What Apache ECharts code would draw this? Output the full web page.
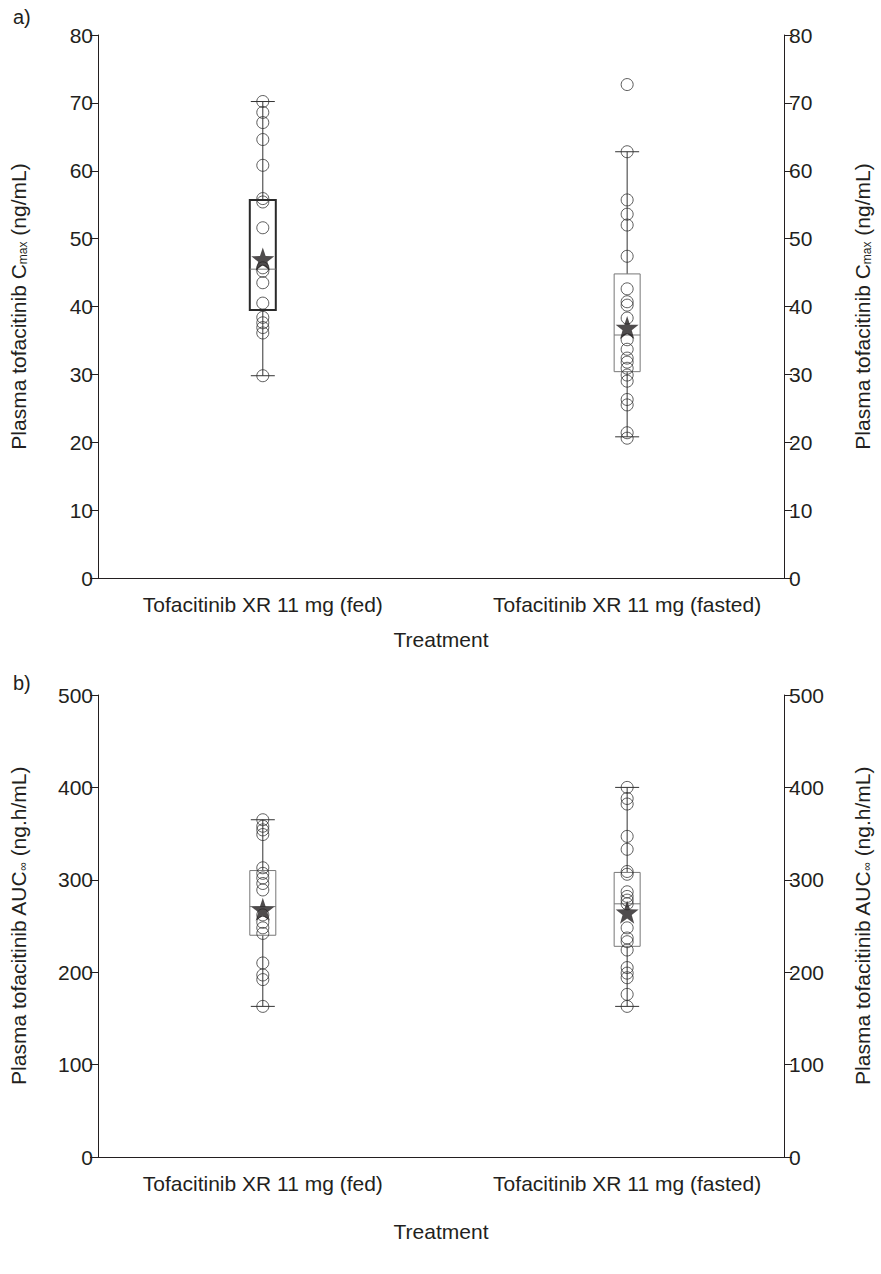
<!DOCTYPE html>
<html><head><meta charset="utf-8">
<script src="https://cdn.jsdelivr.net/npm/echarts@6/dist/echarts.min.js"></script>
<style>html,body{margin:0;padding:0;background:#fff}#c{width:881px;height:1274px}</style>
</head><body><div id="c"></div>
<script>
// ---- data ----
const categories = ['Tofacitinib XR 11 mg (fed)', 'Tofacitinib XR 11 mg (fasted)'];
const cmaxTicks = [0, 10, 20, 30, 40, 50, 60, 70, 80];
const aucTicks = [0, 100, 200, 300, 400, 500];

const cmaxFed = [70.2, 68.6, 67.1, 64.6, 60.8, 55.9, 55.4, 51.6, 45.7, 45.2, 43.5, 40.5, 38.4, 37.6, 36.9, 36.1, 29.8];
const cmaxFasted = [72.7, 62.8, 55.7, 53.6, 52.0, 47.4, 42.6, 40.7, 40.2, 38.3, 35.1, 33.7, 32.4, 31.8, 30.9, 29.9, 29.0, 26.3, 25.5, 21.4, 20.6];
// [min, q1, median, q3, max]
const cmaxFedBox = [29.8, 39.5, 45.5, 55.7, 70.2];
const cmaxFastedBox = [20.8, 30.4, 35.8, 44.8, 62.8];
const cmaxMeans = [47.0, 36.9];

const aucFed = [365, 358, 354, 349, 313, 307, 302, 296, 289, 262, 254, 248, 242, 210, 197, 192, 163];
const aucFasted = [400, 388, 382, 347, 333, 309, 306, 287, 282, 278, 274, 248, 237, 233, 224, 205, 199, 194, 176, 163];
const aucFedBox = [163, 240, 271, 310, 365];
const aucFastedBox = [163, 228, 274, 308, 400];
const aucMeans = [268, 265];

// ---- layout / style ----
const FONT = "'Liberation Sans', Arial, sans-serif";
const INK = '#231f20';
const FS = 21;
const xMin = -(264 - 98) / (631 - 264);
const xMax = 1 + (789 - 631) / (631 - 264);
const STAR = 'path://M0,-10 L2.35,-3.24 9.51,-3.09 3.8,1.24 5.88,8.09 0,4 -5.88,8.09 -3.8,1.24 -9.51,-3.09 -2.35,-3.24Z';

function pts(i, arr) { return arr.map(v => [i, v]); }

function xAxisFor(g, nameGap) {
  return {
    type: 'value', gridIndex: g, min: xMin, max: xMax,
    axisLine: { show: true, onZero: false, lineStyle: { color: INK, width: 1 } },
    axisTick: { show: false }, splitLine: { show: false },
    axisLabel: { customValues: [0, 1], formatter: v => categories[Math.round(v)] || '', margin: 16, color: INK, fontSize: FS, fontFamily: FONT },
    name: 'Treatment', nameLocation: 'middle', nameGap: nameGap,
    nameTextStyle: { color: INK, fontSize: FS, fontFamily: FONT }
  };
}
function yAxisFor(g, pos, ticks, name) {
  return {
    type: 'value', gridIndex: g, position: pos,
    min: ticks[0], max: ticks[ticks.length - 1], interval: ticks[1] - ticks[0],
    axisLine: { show: true, onZero: false, lineStyle: { color: INK, width: 1 } },
    axisTick: { show: true, length: 8, lineStyle: { color: INK } },
    splitLine: { show: false },
    axisLabel: { margin: 5, color: INK, fontSize: FS, fontFamily: FONT },
    name: name, nameLocation: 'middle', nameGap: pos === 'left' ? 69 : 68,
    nameTextStyle: { color: INK, fontSize: FS, fontFamily: FONT,
      rich: { sub: { fontSize: 12, color: INK, fontFamily: FONT, verticalAlign: 'bottom', padding: [7, 0, 0, 0] } } }
  };
}

function boxRender(boldFirst) {
  return function (params, api) {
    const x = api.value(0);
    const pMin = api.coord([x, api.value(1)]);
    const pQ1 = api.coord([x, api.value(2)]);
    const pMed = api.coord([x, api.value(3)]);
    const pQ3 = api.coord([x, api.value(4)]);
    const pMax = api.coord([x, api.value(5)]);
    const cx = pMax[0], hw = 13, cw = 12;
    const bold = boldFirst && params.dataIndex === 0;
    const boxStroke = bold ? '#2a2a2a' : '#777';
    const lw = bold ? 2 : 1;
    const ln = (x1, y1, x2, y2, s, w) => ({ type: 'line', shape: { x1, y1, x2, y2 }, style: { stroke: s, lineWidth: w } });
    return {
      type: 'group', children: [
        ln(cx, pMax[1], cx, pQ3[1], '#333', 1),
        ln(cx, pQ1[1], cx, pMin[1], '#333', 1),
        ln(cx - cw, pMax[1], cx + cw, pMax[1], '#333', 1),
        ln(cx - cw, pMin[1], cx + cw, pMin[1], '#333', 1),
        { type: 'rect', shape: { x: cx - hw, y: pQ3[1], width: 2 * hw, height: pQ1[1] - pQ3[1] }, style: { fill: 'none', stroke: boxStroke, lineWidth: lw } },
        ln(cx - hw, pMed[1], cx + hw, pMed[1], '#777', 1)
      ]
    };
  };
}

function panelSeries(g, fed, fasted, fedBox, fastedBox, means, boldFirst) {
  const circleStyle = { color: 'rgba(0,0,0,0)', borderColor: '#333', borderWidth: 1 };
  return [
    { type: 'custom', xAxisIndex: g, yAxisIndex: 2 * g, renderItem: boxRender(boldFirst),
      encode: { x: 0, y: [1, 2, 3, 4, 5] }, silent: true, z: 1,
      data: [[0].concat(fedBox), [1].concat(fastedBox)] },
    { type: 'scatter', xAxisIndex: g, yAxisIndex: 2 * g, symbol: 'circle', symbolSize: 12, z: 3,
      itemStyle: circleStyle, data: pts(0, fed).concat(pts(1, fasted)), silent: true },
    { type: 'scatter', xAxisIndex: g, yAxisIndex: 2 * g, symbol: STAR, symbolSize: 23, z: 4,
      itemStyle: { color: INK }, data: means.map((v, i) => [i, v]), silent: true }
  ];
}

const chart = echarts.init(document.getElementById('c'), null, { renderer: 'svg' });
chart.setOption({
  animation: false,
  backgroundColor: '#fff',
  title: [
    { text: 'a)', left: 8, top: 2, textStyle: { fontSize: 20, fontWeight: 'normal', color: INK, fontFamily: FONT } },
    { text: 'b)', left: 8, top: 668, textStyle: { fontSize: 20, fontWeight: 'normal', color: INK, fontFamily: FONT } }
  ],
  grid: [
    { left: 98, right: 92, top: 35, height: 543 },
    { left: 98, right: 92, top: 695, height: 462 }
  ],
  xAxis: [xAxisFor(0, 51), xAxisFor(1, 64)],
  yAxis: [
    yAxisFor(0, 'left', cmaxTicks, 'Plasma tofacitinib C{sub|max} (ng/mL)'),
    yAxisFor(0, 'right', cmaxTicks, 'Plasma tofacitinib C{sub|max} (ng/mL)'),
    yAxisFor(1, 'left', aucTicks, 'Plasma tofacitinib AUC{sub|∞} (ng.h/mL)'),
    yAxisFor(1, 'right', aucTicks, 'Plasma tofacitinib AUC{sub|∞} (ng.h/mL)')
  ],
  series: panelSeries(0, cmaxFed, cmaxFasted, cmaxFedBox, cmaxFastedBox, cmaxMeans, true)
    .concat(panelSeries(1, aucFed, aucFasted, aucFedBox, aucFastedBox, aucMeans, false))
});
</script></body></html>
